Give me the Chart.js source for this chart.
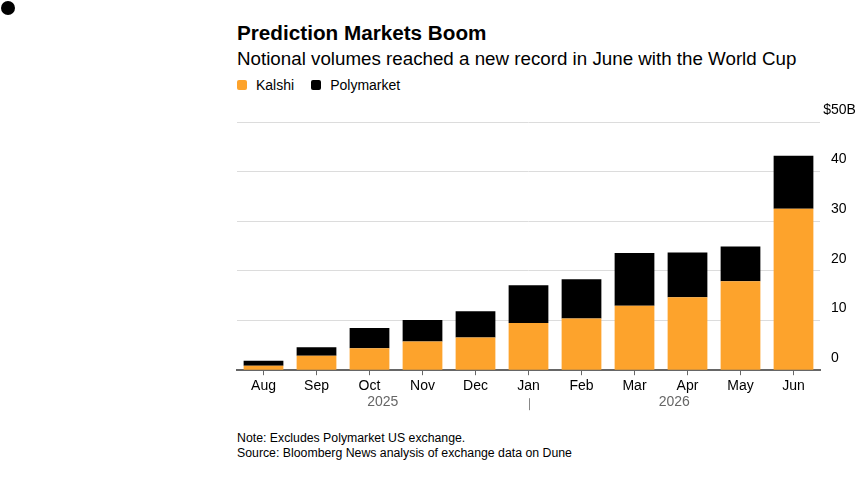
<!DOCTYPE html>
<html>
<head>
<meta charset="utf-8">
<script src="https://cdn.jsdelivr.net/npm/chart.js@4"></script>
<style>
  html, body { margin: 0; padding: 0; background: #fff; }
  body { width: 862px; height: 479px; position: relative; overflow: hidden;
         font-family: "Liberation Sans", Arial, sans-serif; color: #000; }
  .dot { position: absolute; left: 1px; top: 1px; width: 14px; height: 14px; border-radius: 50%; background: #000; }
  h1 { position: absolute; left: 237px; top: 21px; margin: 0; font-size: 20.7px; font-weight: 700; }
  .sub { position: absolute; left: 237px; top: 48px; margin: 0; font-size: 18.75px; }
  .legend { position: absolute; left: 237px; top: 77px; font-size: 14px; display: flex; align-items: center; }
  .legend i { display: inline-block; width: 10px; height: 10px; border-radius: 2px; margin-right: 9px; }
  .legend span { margin-right: 17px; }
  .notes { position: absolute; left: 237px; top: 431px; font-size: 12.3px; line-height: 15px; }
  #wrap { position: absolute; left: 0; top: 0; width: 862px; height: 479px; }
</style>
</head>
<body>
<div class="dot"></div>
<h1>Prediction Markets Boom</h1>
<p class="sub">Notional volumes reached a new record in June with the World Cup</p>
<div class="legend"><i style="background:#fda32c"></i><span>Kalshi</span><i style="background:#000"></i><span>Polymarket</span></div>
<div class="notes">Note: Excludes Polymarket US exchange.<br>Source: Bloomberg News analysis of exchange data on Dune</div>
<div id="wrap"><canvas id="c"></canvas></div>
<script>
// data, $ billions
const MONTHS = ['Aug', 'Sep', 'Oct', 'Nov', 'Dec', 'Jan', 'Feb', 'Mar', 'Apr', 'May', 'Jun'];
const KALSHI = [0.9, 2.9, 4.4, 5.8, 6.6, 9.5, 10.4, 13.0, 14.7, 17.9, 32.5];
const POLYMARKET = [1.0, 1.7, 4.1, 4.3, 5.3, 7.6, 7.9, 10.6, 9.0, 7.0, 10.7];
const Y_TICKS = [0, 10, 20, 30, 40, 50];
const YEARS = ['2025', '2026'];
const YEAR_BREAK = 5; // Jan

const ORANGE = '#fda32c', GRID = '#dcdcdc', AXIS = '#666';
const FONT = '"Liberation Sans", Arial, sans-serif';

// y labels sit above their gridline, "$" hangs left of the top one
const yLabels = {
  id: 'yLabels',
  afterDraw(chart) {
    const { ctx, chartArea: a, scales: { y } } = chart;
    ctx.save();
    ctx.font = '14px ' + FONT;
    ctx.fillStyle = '#000';
    ctx.textBaseline = 'middle';
    const x0 = a.right + 11;
    Y_TICKS.forEach(v => {
      const py = y.getPixelForValue(v) - 12;
      ctx.textAlign = 'left';
      ctx.fillText(v === 50 ? '50B' : String(v), x0, py);
      if (v === 50) { ctx.textAlign = 'right'; ctx.fillText('$', x0, py); }
    });
    ctx.restore();
  }
};

// year row under the month labels
const yearRow = {
  id: 'yearRow',
  afterDraw(chart) {
    const { ctx, chartArea: a, scales: { x } } = chart;
    const sep = x.getPixelForValue(YEAR_BREAK);
    ctx.save();
    ctx.font = '14px ' + FONT;
    ctx.fillStyle = '#666';
    ctx.textAlign = 'center';
    ctx.textBaseline = 'middle';
    ctx.fillText(YEARS[0], (a.left + sep) / 2, a.bottom + 32);
    ctx.fillText(YEARS[1], (sep + a.right) / 2, a.bottom + 32);
    ctx.strokeStyle = '#888';
    ctx.lineWidth = 1;
    ctx.beginPath();
    ctx.moveTo(Math.round(sep) + 0.5, a.bottom + 28);
    ctx.lineTo(Math.round(sep) + 0.5, a.bottom + 40);
    ctx.stroke();
    ctx.restore();
  }
};

new Chart('c', {
  type: 'bar',
  data: {
    labels: MONTHS,
    datasets: [
      { label: 'Kalshi', data: KALSHI, backgroundColor: ORANGE },
      { label: 'Polymarket', data: POLYMARKET, backgroundColor: '#000' }
    ]
  },
  options: {
    responsive: true, maintainAspectRatio: false, animation: false,
    layout: { padding: { left: 237, right: 42, top: 122, bottom: 81 } },
    datasets: { bar: { barPercentage: 0.75, categoryPercentage: 1 } },
    plugins: { legend: { display: false }, tooltip: { enabled: false } },
    scales: {
      x: {
        stacked: true,
        grid: { drawOnChartArea: false, offset: false, tickLength: 5, color: AXIS },
        border: { color: AXIS, width: 2 },
        ticks: { color: '#000', padding: 3, font: { family: FONT, size: 14 } }
      },
      y: {
        stacked: true, position: 'right', min: 0, max: 50,
        grid: { color: GRID, drawTicks: false },
        border: { display: false },
        ticks: { display: false, stepSize: 10 }
      }
    }
  },
  plugins: [yLabels, yearRow]
});
</script>
</body>
</html>
